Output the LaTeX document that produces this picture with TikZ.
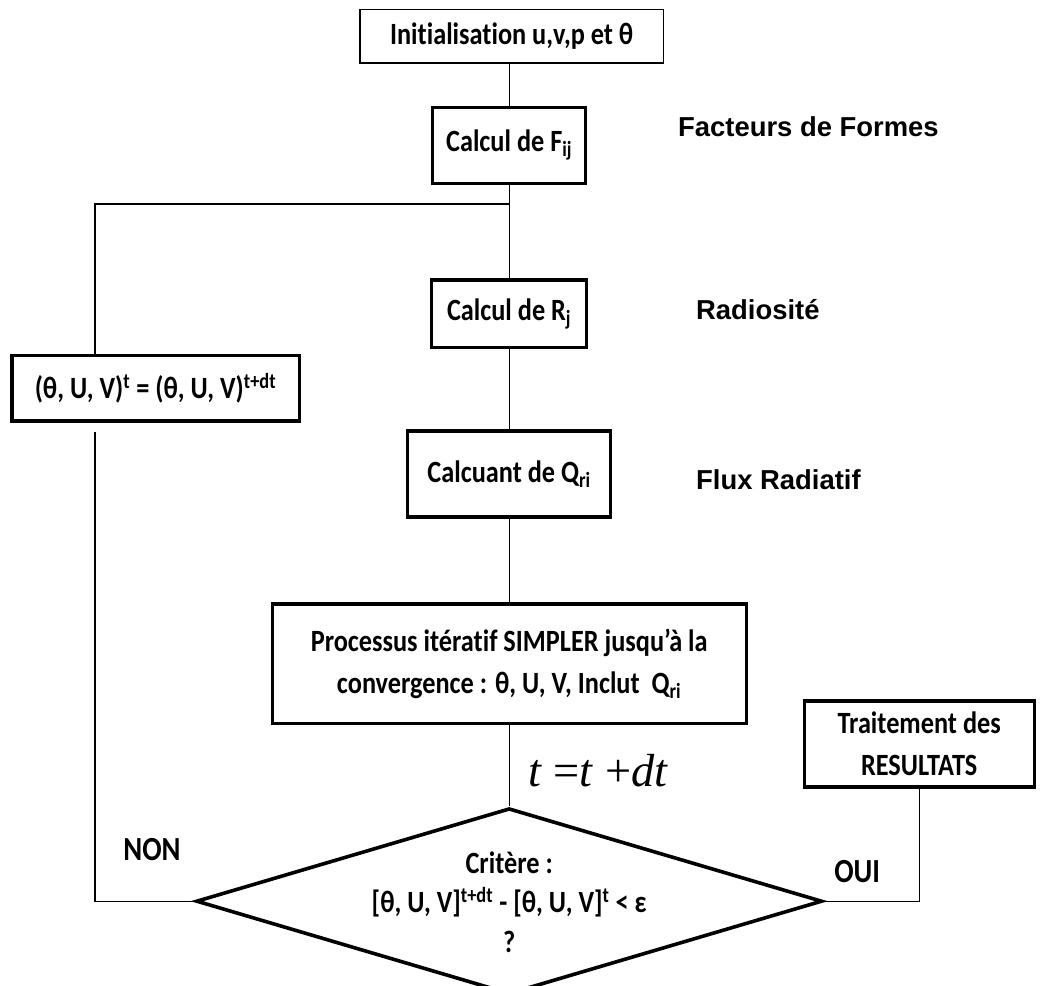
\documentclass[tikz,border=0pt]{standalone}
\usepackage{fontspec}
\setmainfont{Carlito}[FakeStretch=0.85, Ligatures=NoCommon]
\newfontfamily\arialfont{Liberation Sans}
\newfontfamily\tmsfont{Liberation Serif}
\usetikzlibrary{shapes.geometric}

\tikzset{
	box/.style={draw, line width=0.8mm, fill=white, inner sep=2pt, align=center,
		font=\fontsize{22}{30}\selectfont\bfseries},
	link/.style={line width=0.35mm},
	side/.style={anchor=west, font=\fontsize{19.5}{23}\selectfont\arialfont\bfseries},
	answer/.style={font=\fontsize{24}{28}\selectfont\bfseries},
}

\begin{document}
\begin{tikzpicture}
	\useasboundingbox (0,0) rectangle (26,-24.65);

	% main column
	\node[box, line width=0.3mm, minimum width=7.58cm, minimum height=1.33cm] (init) at (12.79,-0.91) {Initialisation u,v,p et θ};
	\node[box, minimum width=3.83cm, minimum height=1.9cm] (fij) at (12.73,-3.63) {Calcul de F\textsubscript{ij}};
	\node[box, minimum width=3.88cm, minimum height=1.68cm] (rj) at (12.73,-7.84) {Calcul de R\textsubscript{j}};
	\node[box, minimum width=5.08cm, minimum height=2.15cm] (qri) at (12.73,-11.85) {Calcuant de Q\textsubscript{ri}};
	\node[box, minimum width=11.85cm, minimum height=2.98cm] (simpler) at (12.73,-16.59) {Processus itératif SIMPLER jusqu’à la\\convergence : θ, U, V, Inclut~~Q\textsubscript{ri}};
	\node[font=\fontsize{33}{36}\selectfont\tmsfont, anchor=base west] (tdt) at (13.08,-19.66) {\textit{t}~=\textit{t}~+\textit{dt}};

	% decision
	\node[diamond, draw, line width=0.9mm, minimum width=15.65cm, minimum height=4.65cm, inner sep=0pt] (crit) at (12.73,-22.53) {};
	\node[align=center, font=\fontsize{22}{28}\selectfont\bfseries] (crittxt) at (12.73,-22.55) {Critère :\\{[}θ, U, V]\textsuperscript{t+dt} - [θ, U, V]\textsuperscript{t} < ε\\?};

	% side boxes
	\node[box, minimum width=7.18cm, minimum height=1.63cm] (maj) at (3.89,-9.71) {(θ, U, V)\textsuperscript{t} = (θ, U, V)\textsuperscript{t+dt}};
	\node[box, minimum width=5.75cm, minimum height=2.15cm] (trait) at (22.98,-18.6) {Traitement des\\RESULTATS};

	% labels
	\node[side] (facteurs) at (16.83,-3.18) {Facteurs de Formes};
	\node[side] (radio) at (17.28,-7.75) {Radiosité};
	\node[side] (flux) at (17.28,-12.0) {Flux Radiatif};
	\node[answer] (non) at (3.8,-21.25) {NON};
	\node[answer] (oui) at (21.43,-21.8) {OUI};

	% Draw the links between the boxes
	\coordinate (split) at (12.73,-5.1);
	\coordinate (left) at (2.375,-5.1);
	\coordinate (back) at (2.375,-10.8);
	\draw[link] (fij |- init.south) -- (fij);
	\draw[link] (fij) -- (rj);
	\draw[link] (split) -- (left) -- (left |- maj.north);
	\draw[link] (rj) -- (qri);
	\draw[link] (qri) -- (simpler);
	\draw[link] (simpler) -- (crit);
	\draw[link] (back) |- (crit.west);
	\draw[link] (trait.south) |- (crit.east);
\end{tikzpicture}
\end{document}
